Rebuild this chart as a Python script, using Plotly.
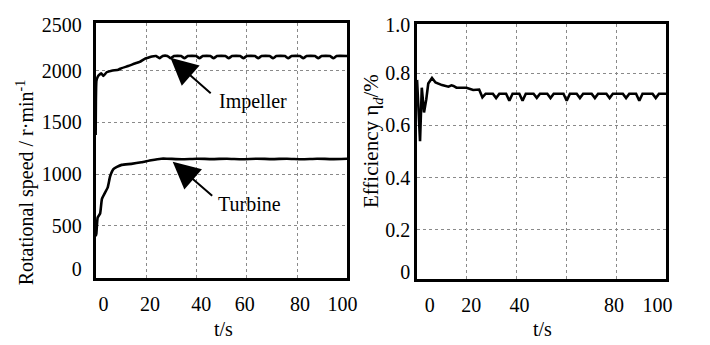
import plotly.graph_objects as go

# ---------------- data ----------------
IMP_T = [-0.5, -0.4, -0.2, 0.3, 0.7, 1.7, 2.6, 3.9, 5.9, 8.6, 9.9, 12.5, 15.2, 17.1, 19.1, 20.4, 22.0,
         23.7, 25.0, 26.3, 28.2, 29.5, 30.8, 33.7, 35.0, 36.3, 39.7, 41.0, 42.3, 45.4, 46.7, 48.0,
         51.4, 52.7, 54.0, 57.3, 58.6, 59.9, 63.2, 64.5, 65.8, 69.1, 70.4, 71.7, 75.2, 76.5, 77.8,
         81.2, 82.5, 83.8, 87.2, 88.5, 89.8, 93.2, 94.5, 95.8, 100.0]
IMP_V = [1380, 1700, 1900, 1940, 1955, 1975, 1950, 1985, 2000, 2010, 2025, 2045, 2070, 2085, 2115, 2125, 2138,
         2142, 2120, 2142, 2142, 2120, 2142, 2142, 2120, 2142, 2142, 2120, 2142, 2142, 2120, 2142,
         2142, 2120, 2142, 2142, 2120, 2142, 2142, 2120, 2142, 2142, 2120, 2142, 2142, 2120, 2142,
         2142, 2120, 2142, 2142, 2120, 2142, 2142, 2120, 2142, 2142]

TUR_T = [-0.5, -0.2, 0.3, 1.3, 2.0, 3.0, 4.3, 5.3, 6.6, 8.0, 9.9, 13.8, 17.8, 21.7, 25.7,
         28, 34, 40, 46, 52, 58, 64, 70, 76, 82, 88, 94, 100]
TUR_V = [400, 430, 580, 620, 760, 810, 870, 980, 1050, 1070, 1090, 1100, 1115, 1135, 1150,
         1150, 1145, 1150, 1146, 1150, 1145, 1150, 1146, 1150, 1145, 1150, 1146, 1150]

EFF_T = [0.0, 0.6, 1.2, 1.9, 2.8, 3.7, 4.5, 6.0, 7.4, 10.0, 12.6, 13.8, 14.6, 15.8, 19.8, 22.5, 24.9,
         26.2, 27.5, 30.4, 31.7, 33.0, 35.7, 37.0, 38.3, 41.0, 42.3, 43.6, 46.7, 48.0, 49.3,
         52.2, 53.5, 54.8, 58.7, 60.0, 61.3, 64.0, 65.3, 66.6, 70.0, 71.3, 72.6, 75.9, 77.2, 78.5,
         82.5, 83.8, 85.1, 87.8, 89.1, 90.4, 94.4, 95.7, 97.0, 100.0]
EFF_V = [0.775, 0.62, 0.54, 0.745, 0.65, 0.70, 0.761, 0.782, 0.765, 0.755, 0.749, 0.754, 0.752, 0.745, 0.745, 0.736, 0.738,
         0.708, 0.722, 0.722, 0.705, 0.722, 0.722, 0.695, 0.722, 0.722, 0.695, 0.722, 0.722, 0.706, 0.722,
         0.722, 0.705, 0.722, 0.722, 0.695, 0.722, 0.722, 0.705, 0.722, 0.722, 0.705, 0.722, 0.722, 0.705, 0.722,
         0.722, 0.705, 0.722, 0.722, 0.695, 0.722, 0.722, 0.705, 0.722, 0.722]

# tick labels (positions where the labels sit) and grid positions
L_XTICK_POS = [2.6, 21.2, 41.7, 59.1, 81.2, 98.2]
L_XTICK_TXT = ["0", "20", "40", "60", "80", "100"]
L_YTICK_POS = [83, 500, 1000, 1500, 2000, 2445]
L_YTICK_TXT = ["0", "500", "1000", "1500", "2000", "2500"]
R_XTICK_POS = [5.1, 21.7, 41.1, 79.0, 96.4]
R_XTICK_TXT = ["0", "20", "40", "80", "100"]
R_YTICK_POS = [0.038, 0.2, 0.4, 0.6, 0.8, 0.985]
R_YTICK_TXT = ["0", "0.2", "0.4", "0.6", "0.8", "1.0"]
X_GRID = [20, 40, 60, 80]
L_Y_GRID = [500, 1000, 1500, 2000]
R_Y_GRID = [0.2, 0.4, 0.6, 0.8]

FONT = "Liberation Serif"
W, H = 710, 345

fig = go.Figure()
line = dict(color="black", width=2.6)
fig.add_trace(go.Scatter(x=IMP_T, y=IMP_V, mode="lines", line=dict(**line, shape="spline", smoothing=0.4),
                         xaxis="x", yaxis="y", showlegend=False))
fig.add_trace(go.Scatter(x=TUR_T, y=TUR_V, mode="lines", line=dict(**line, shape="spline", smoothing=0.4),
                         xaxis="x", yaxis="y", showlegend=False))
fig.add_trace(go.Scatter(x=EFF_T, y=EFF_V, mode="lines", line=line,
                         xaxis="x2", yaxis="y2", showlegend=False))

def grid_minor(vals):
    return dict(tickvals=vals, showgrid=True, gridcolor="#8a8a8a", griddash="dot", gridwidth=1, ticks="")

axcommon = dict(showline=True, linecolor="black", linewidth=2.6, mirror=True, ticks="",
                showgrid=False, zeroline=False, tickmode="array",
                tickfont=dict(family=FONT, size=20, color="black"))

fig.update_layout(
    width=W, height=H, margin=dict(l=0, r=0, t=0, b=0),
    paper_bgcolor="white", plot_bgcolor="white",
    font=dict(family=FONT, size=20, color="black"),
    xaxis=dict(**axcommon, domain=[97 / W, 352 / W], range=[-0.5, 100], anchor="y",
               tickvals=L_XTICK_POS, ticktext=L_XTICK_TXT, minor=grid_minor(X_GRID), ticklabelstandoff=7),
    yaxis=dict(**axcommon, domain=[(H - 279) / H, (H - 14) / H], range=[0, 2457], anchor="x",
               tickvals=L_YTICK_POS, ticktext=L_YTICK_TXT, minor=grid_minor(L_Y_GRID), ticklabelstandoff=7),
    xaxis2=dict(**axcommon, domain=[423 / W, 676 / W], range=[0, 100], anchor="y2",
                tickvals=R_XTICK_POS, ticktext=R_XTICK_TXT, minor=grid_minor(X_GRID), ticklabelstandoff=7),
    yaxis2=dict(**axcommon, domain=[(H - 280) / H, (H - 15) / H], range=[0.012, 0.988], anchor="x2",
                tickvals=R_YTICK_POS, ticktext=R_YTICK_TXT, minor=grid_minor(R_Y_GRID), ticklabelstandoff=0),
)

ann = []
# arrows
ann.append(dict(x=29.4, y=2125, ax=46.1, ay=1769, xref="x", yref="y", axref="x", ayref="y",
                text="", showarrow=True, arrowhead=2, arrowsize=2.7, arrowwidth=2, arrowcolor="black"))
ann.append(dict(x=30.3, y=1120, ax=46.7, ay=779, xref="x", yref="y", axref="x", ayref="y",
                text="", showarrow=True, arrowhead=2, arrowsize=2.7, arrowwidth=2, arrowcolor="black"))
ann.append(dict(x=48.0, y=1700, xref="x", yref="y", text="Impeller", showarrow=False,
                xanchor="left", yanchor="middle", font=dict(family=FONT, size=20)))
ann.append(dict(x=47.6, y=711, xref="x", yref="y", text="Turbine", showarrow=False,
                xanchor="left", yanchor="middle", font=dict(family=FONT, size=20)))
# axis titles
ann.append(dict(x=26 / W, y=(H - 180) / H, xref="paper", yref="paper", textangle=-90,
                text="Rotational speed / r·min<sup>-1</sup>", showarrow=False,
                xanchor="center", yanchor="middle", font=dict(family=FONT, size=20)))
ann.append(dict(x=378 / W, y=(H - 137) / H, xref="paper", yref="paper", textangle=-90,
                text="Efficiency η<sub><i>d</i></sub>/%", showarrow=False,
                xanchor="center", yanchor="middle", font=dict(family=FONT, size=21)))
ann.append(dict(x=227 / W, y=(H - 332) / H, xref="paper", yref="paper", text="t/s", showarrow=False,
                xanchor="center", yanchor="middle", font=dict(family=FONT, size=20)))
ann.append(dict(x=550 / W, y=(H - 333) / H, xref="paper", yref="paper", text="t/s", showarrow=False,
                xanchor="center", yanchor="middle", font=dict(family=FONT, size=20)))
fig.update_layout(annotations=ann)

fig.write_html("out.html")
